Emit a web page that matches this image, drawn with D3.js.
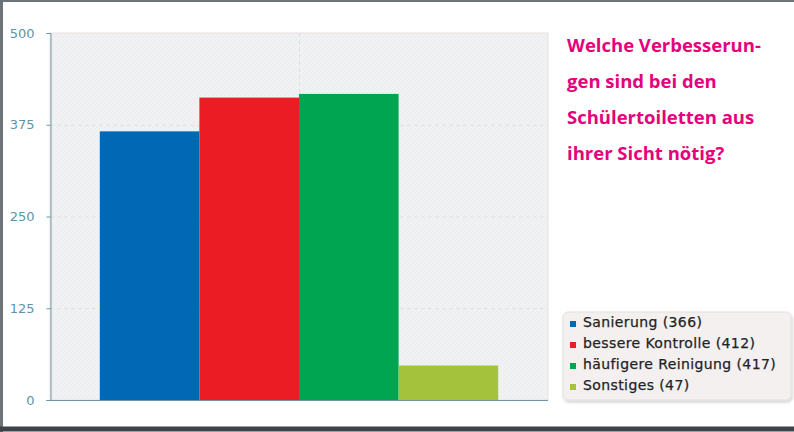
<!DOCTYPE html>
<html>
<head>
<meta charset="utf-8">
<script src="https://cdn.jsdelivr.net/npm/d3@7"></script>
<style>
  body { margin: 0; background: #fff; }
  svg { display: block; }
</style>
</head>
<body>
<svg id="chart" width="794" height="432"></svg>
<script>
const categories = ['Sanierung', 'bessere Kontrolle', 'häufigere Reinigung', 'Sonstiges'];
const values = [366, 412, 417, 47];
const colors = ['#0168b5', '#ec1c24', '#00a551', '#a4c23c'];
const yTicks = [0, 125, 250, 375, 500];
const titleLines = ['Welche Verbesserun-', 'gen sind bei den', 'Schülertoiletten aus', 'ihrer Sicht nötig?'];

const svg = d3.select('#chart');
const margin = {left: 50, top: 33, right: 246, bottom: 32};
const width = 794, height = 432;

// Outer frame
svg.append('rect').attr('x', 0).attr('y', 0).attr('width', width).attr('height', height).attr('fill', '#fff');
svg.append('line').attr('x1', 0).attr('x2', width).attr('y1', 1).attr('y2', 1)
  .attr('stroke', '#6d7377').attr('stroke-width', 2);
svg.append('line').attr('x1', 1.5).attr('x2', 1.5).attr('y1', 0).attr('y2', height)
  .attr('stroke', '#6d7377').attr('stroke-width', 3);
svg.append('line').attr('x1', 0).attr('x2', width).attr('y1', 429).attr('y2', 429)
  .attr('stroke', '#3d4347').attr('stroke-width', 5);

// Hatch pattern for plot background
const defs = svg.append('defs');
const pat = defs.append('pattern').attr('id', 'hatch').attr('patternUnits', 'userSpaceOnUse')
  .attr('width', 4).attr('height', 4);
pat.append('rect').attr('width', 4).attr('height', 4).attr('fill', '#f1f2f3');
pat.append('path').attr('d', 'M0,4 L4,0').attr('stroke', '#e8eaec').attr('stroke-width', 1);

const filt = defs.append('filter').attr('id', 'shadow').attr('x', -0.1).attr('y', -0.1)
  .attr('width', 1.2).attr('height', 1.3);
filt.append('feDropShadow').attr('dx', 1).attr('dy', 2).attr('stdDeviation', 1.5)
  .attr('flood-color', '#000').attr('flood-opacity', 0.18);

const x0 = margin.left, x1 = width - margin.right;
const y0 = height - margin.bottom, y1 = margin.top;

const x = d3.scaleBand().domain(categories).range([x0, x1]).paddingInner(0).paddingOuter(0.5);
const y = d3.scaleLinear().domain([0, 500]).range([y0, y1]);

svg.append('rect').attr('x', x0).attr('y', y1).attr('width', x1 - x0).attr('height', y0 - y1)
  .attr('fill', 'url(#hatch)').attr('stroke', '#e7e2df').attr('stroke-width', 1);

// Grid lines
const grid = svg.append('g');
grid.selectAll('line.h').data(yTicks.slice(1, -1)).enter().append('line')
  .attr('x1', x0).attr('x2', x1).attr('y1', d => y(d) + 0.5).attr('y2', d => y(d) + 0.5)
  .attr('stroke', '#d6e2e7').attr('stroke-dasharray', '4,3');
grid.append('line').attr('x1', (x0 + x1) / 2 + 0.5).attr('x2', (x0 + x1) / 2 + 0.5)
  .attr('y1', y1).attr('y2', y0).attr('stroke', '#d6e2e7').attr('stroke-dasharray', '4,3');

// Bars
svg.append('g').selectAll('rect').data(values).enter().append('rect')
  .attr('x', (d, i) => x(categories[i]))
  .attr('y', d => y(d))
  .attr('width', x.bandwidth())
  .attr('height', d => y0 - y(d))
  .attr('fill', (d, i) => colors[i]);

// Y axis
const yAxis = svg.append('g').attr('transform', `translate(${x0 + 0.5},0)`)
  .call(d3.axisLeft(y).tickValues(yTicks).tickSize(4).tickPadding(12));
yAxis.select('.domain').attr('stroke', '#6d97a5');
yAxis.selectAll('.tick line').attr('stroke', '#6d97a5');
yAxis.selectAll('.tick text').attr('fill', '#5f93a6')
  .attr('font-family', 'DejaVu Sans').attr('font-size', 13);
// bottom axis line
svg.append('line').attr('x1', x0).attr('x2', x1).attr('y1', y0 + 0.5).attr('y2', y0 + 0.5)
  .attr('stroke', '#6d97a5');

// Title
svg.append('g').selectAll('text').data(titleLines).enter().append('text')
  .attr('x', 567).attr('y', (d, i) => 52 + i * 36)
  .attr('fill', '#e5007d').attr('font-family', 'Open Sans').attr('font-weight', 'bold')
  .attr('font-size', 18.5).text(d => d);

// Legend
const lg = svg.append('g').attr('transform', 'translate(563,312)');
lg.append('rect').attr('width', 228).attr('height', 88).attr('rx', 5)
  .attr('fill', '#f3f0ef').attr('stroke', '#e4e0de').attr('filter', 'url(#shadow)');
const items = lg.selectAll('g.item').data(categories).enter().append('g')
  .attr('transform', (d, i) => `translate(0,${15 + i * 21})`);
items.append('rect').attr('x', 7).attr('y', -6).attr('width', 6).attr('height', 6)
  .attr('fill', (d, i) => colors[i]);
items.append('text').attr('x', 20).attr('y', 0)
  .attr('font-family', 'DejaVu Sans').attr('font-size', 14).attr('letter-spacing', 0.4)
  .attr('fill', '#1f2326').attr('stroke', '#1f2326').attr('stroke-width', 0.25)
  .text((d, i) => `${d} (${values[i]})`);
</script>
</body>
</html>
